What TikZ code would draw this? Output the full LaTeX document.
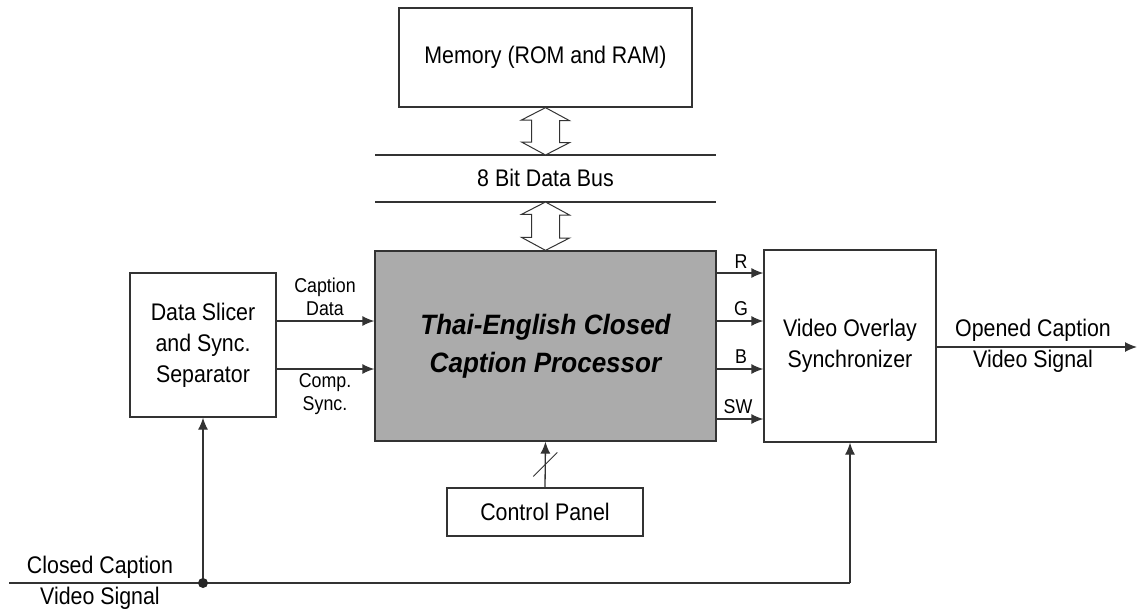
\documentclass[tikz,border=0pt]{standalone}
\usepackage{fontspec}
\setmainfont{Liberation Sans}[FakeStretch=0.89]
\newfontfamily\procfont{Liberation Sans}[FakeStretch=0.93]
\usetikzlibrary{arrows.meta,calc}
\begin{document}
\begin{tikzpicture}[x=1pt,y=-1pt,
  line width=1.3pt,
  box/.style={draw=black!80, fill=white, inner sep=0pt, align=center,
    font=\fontsize{24}{31}\selectfont},
  lbl/.style={inner sep=0pt, align=center, font=\fontsize{24}{31}\selectfont},
  small/.style={inner sep=1.5pt, align=center, font=\fontsize{20}{23.5}\selectfont},
  arr/.style={draw=black!80, -{Latex[length=12pt,width=10pt]}},
  wire/.style={draw=black!80},
  hollow/.style={draw=black!80, fill=white, line width=1pt}]
\useasboundingbox (0,0) rectangle (1139,610);

% blocks
\node[box, minimum width=293pt, minimum height=99pt] (mem) at (545.5,57.5) {Memory (ROM and RAM)};
\node[box, minimum width=341pt, minimum height=190pt, fill=black!33,
  font=\procfont\fontsize{28}{38}\selectfont\bfseries\itshape] (proc) at (545.5,346)
  {Thai-English Closed\\Caption Processor};
\node[box, minimum width=146pt, minimum height=144pt] (slicer) at (203,345)
  {Data Slicer\\and Sync.\\Separator};
\node[box, minimum width=172pt, minimum height=192pt] (ovl) at (850,346)
  {Video Overlay\\Synchronizer};
\node[box, minimum width=196pt, minimum height=48pt] (ctrl) at (545,512) {Control Panel};

% data bus
\coordinate (busAl) at (375,155);
\coordinate (busAr) at (716,155);
\coordinate (busBl) at (375,202);
\coordinate (busBr) at (716,202);
\draw[wire] (busAl) -- (busAr);
\draw[wire] (busBl) -- (busBr);
\node[lbl] (bus) at (545.5,178) {8 Bit Data Bus};

% hollow double arrows
\draw[hollow] (mem.south) -- ++(24,13) -- ++(-10,0) -- ++(0,22) -- ++(10,0)
  -- (busAl -| mem.south) -- ++(-24,-13) -- ++(10,0) -- ++(0,-22) -- ++(-10,0) -- cycle;
\draw[hollow] (busBl -| proc.north) -- ++(24,13) -- ++(-10,0) -- ++(0,23) -- ++(10,0)
  -- (proc.north) -- ++(-24,-13) -- ++(10,0) -- ++(0,-23) -- ++(-10,0) -- cycle;

% slicer -> processor
\coordinate (yCD) at (0,321);
\coordinate (yCS) at (0,369);
\draw[arr] (slicer.east |- yCD) -- (proc.west |- yCD);
\draw[arr] (slicer.east |- yCS) -- (proc.west |- yCS);
\node[small, anchor=south] (lcd) at (325,318) {Caption\\Data};
\node[small, anchor=north] (lcs) at (325,371) {Comp.\\Sync.};

% processor -> overlay
\coordinate (yR) at (0,273);
\coordinate (yG) at (0,321);
\coordinate (yB) at (0,369);
\coordinate (ySW) at (0,419);
\draw[arr] (proc.east |- yR) -- (ovl.west |- yR);
\draw[arr] (proc.east |- yG) -- (ovl.west |- yG);
\draw[arr] (proc.east |- yB) -- (ovl.west |- yB);
\draw[arr] (proc.east |- ySW) -- (ovl.west |- ySW);
\node[small, anchor=south] (lR) at (741,271) {R};
\node[small, anchor=south] (lG) at (741,318) {G};
\node[small, anchor=south] (lB) at (741,366) {B};
\node[small, anchor=south] (lSW) at (738,416) {SW};

% output
\coordinate (outEnd) at (1137,347);
\draw[arr] (ovl.east |- outEnd) -- (outEnd);
\node[lbl] (lout) at (1033,346) {Opened Caption\\Video Signal};

% control panel
\draw[arr] (ctrl.north) -- (proc.south);
\coordinate (slash) at ($(ctrl.north)!0.5!(proc.south)$);
\draw[wire, line width=1pt] ($(slash)+(-12,12)$) -- ($(slash)+(12,-12)$);

% input video signal
\coordinate (inStart) at (9,583);
\coordinate (junc) at (slicer.south |- inStart);
\draw[wire] (inStart) -- (ovl.south |- inStart);
\draw[arr] (ovl.south |- inStart) -- (ovl.south);
\draw[arr] (junc) -- (slicer.south);
\fill[black!85] (junc) circle (5pt);
\node[lbl] (lin1) at (100,567) {Closed Caption};
\node[lbl] (lin2) at (100,598) {Video Signal};
\end{tikzpicture}
\end{document}
